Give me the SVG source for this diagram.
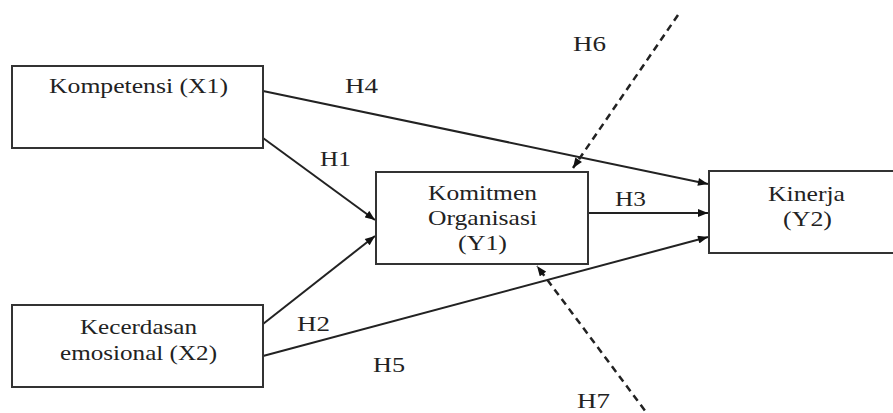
<svg xmlns="http://www.w3.org/2000/svg" width="893" height="413" viewBox="0 0 893 413">
<style>
.box{fill:#fff;stroke:#333;stroke-width:2}
.t{font-family:"Liberation Serif","Times New Roman",serif;font-size:22px;fill:#222;text-anchor:middle}
.l{font-family:"Liberation Serif","Times New Roman",serif;font-size:22px;fill:#222}
.c{fill:none;stroke:#222;stroke-width:2}
.d{fill:none;stroke:#222;stroke-width:2.5;stroke-dasharray:7 5}
</style>
<defs>
<marker id="ah" viewBox="0 0 10 8" refX="10" refY="4" markerWidth="11" markerHeight="8" markerUnits="userSpaceOnUse" orient="auto">
<path d="M0,0 L10,4 L0,8 z" fill="#111"/>
</marker>
</defs>
<rect width="893" height="413" fill="#fff"/>
<g id="connectors">
<line class="c" x1="263" y1="91" x2="708" y2="184" marker-end="url(#ah)"/>
<line class="c" x1="263" y1="138" x2="375" y2="220" marker-end="url(#ah)"/>
<line class="c" x1="263" y1="324" x2="375" y2="236" marker-end="url(#ah)"/>
<line class="c" x1="263" y1="356" x2="708" y2="237" marker-end="url(#ah)"/>
<line class="c" x1="588" y1="213" x2="708" y2="213" marker-end="url(#ah)"/>
<line class="d" x1="678" y1="15" x2="573" y2="168" marker-end="url(#ah)"/>
<line class="d" x1="652" y1="420" x2="537" y2="266" marker-end="url(#ah)"/>
</g>
<g id="labels">
<text class="l" x="345" y="93" textLength="33" lengthAdjust="spacingAndGlyphs">H4</text>
<text class="l" x="320" y="166" textLength="31" lengthAdjust="spacingAndGlyphs">H1</text>
<text class="l" x="297" y="331" textLength="33" lengthAdjust="spacingAndGlyphs">H2</text>
<text class="l" x="373" y="372" textLength="32" lengthAdjust="spacingAndGlyphs">H5</text>
<text class="l" x="573" y="51" textLength="33" lengthAdjust="spacingAndGlyphs">H6</text>
<text class="l" x="615" y="206" textLength="31" lengthAdjust="spacingAndGlyphs">H3</text>
<text class="l" x="577" y="408" textLength="33" lengthAdjust="spacingAndGlyphs">H7</text>
</g>
<g id="x1">
<rect class="box" x="12" y="66" width="251" height="82"/>
<text class="t" x="138.5" y="93" textLength="179" lengthAdjust="spacingAndGlyphs">Kompetensi (X1)</text>
</g>
<g id="x2">
<rect class="box" x="12" y="305" width="251" height="82"/>
<text class="t" x="138.5" y="334" textLength="117" lengthAdjust="spacingAndGlyphs">Kecerdasan</text>
<text class="t" x="138.5" y="360" textLength="157" lengthAdjust="spacingAndGlyphs">emosional (X2)</text>
</g>
<g id="y1">
<rect class="box" x="376" y="172" width="212" height="92"/>
<text class="t" x="482.5" y="200" textLength="109" lengthAdjust="spacingAndGlyphs">Komitmen</text>
<text class="t" x="482.5" y="225" textLength="109" lengthAdjust="spacingAndGlyphs">Organisasi</text>
<text class="t" x="482.5" y="250" textLength="49" lengthAdjust="spacingAndGlyphs">(Y1)</text>
</g>
<g id="y2">
<rect class="box" x="709" y="171" width="200" height="82"/>
<text class="t" x="806.5" y="201" textLength="77" lengthAdjust="spacingAndGlyphs">Kinerja</text>
<text class="t" x="807.5" y="226" textLength="49" lengthAdjust="spacingAndGlyphs">(Y2)</text>
</g>
</svg>
